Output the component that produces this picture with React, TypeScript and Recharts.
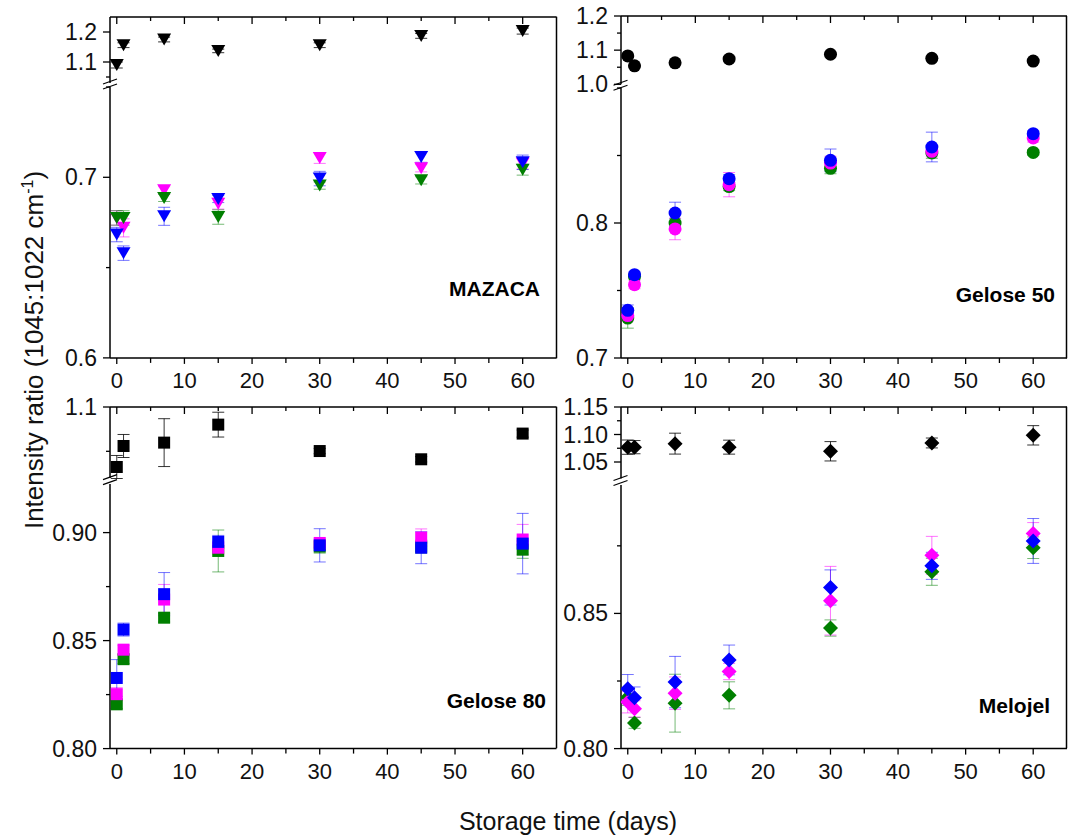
import React from 'react'
import { ErrorBar, Scatter, ScatterChart, XAxis, YAxis } from 'recharts'

const days = [0, 1, 7, 15, 30, 45, 60]
const xTicks = [0, 5, 10, 15, 20, 25, 30, 35, 40, 45, 50, 55, 60]

// MAZACA
const mazacaBlack = [1.09, 1.156, 1.175, 1.137, 1.156, 1.187, 1.203]
const mazacaBlackErr = [0.01, 0.008, 0.008, 0.006, 0.008, 0.008, 0.01]
const mazacaGreen = [0.6775, 0.6775, 0.6886, 0.678, 0.6954, 0.6983, 0.7042]
const mazacaGreenErr = [0.004, 0.004, 0.002, 0.004, 0.002, 0.002, 0.003]
const mazacaMagenta = [0.6775, 0.672, 0.6928, 0.6854, 0.7107, 0.705, 0.7076]
const mazacaMagentaErr = [0.004, 0.005, 0.002, 0.003, 0.003, 0.002, 0.003]
const mazacaBlue = [0.6683, 0.658, 0.6784, 0.688, 0.6993, 0.7113, 0.7083]
const mazacaBlueErr = [0.004, 0.004, 0.005, 0.002, 0.004, 0.003, 0.004]

// Gelose 50
const g50Black = [1.083, 1.054, 1.063, 1.074, 1.088, 1.076, 1.068]
const g50BlackErr = [0.004, 0.003, 0.003, 0.008, 0.003, 0.003, 0.003]
const g50Green = [0.7296, 0.7605, 0.8, 0.827, 0.8405, 0.8519, 0.8523]
const g50GreenErr = [0.0075, 0.002, 0.003, 0.003, 0.004, 0.004, 0.002]
const g50Magenta = [0.7314, 0.7543, 0.7956, 0.8284, 0.8444, 0.8531, 0.863]
const g50MagentaErr = [0.004, 0.003, 0.008, 0.009, 0.005, 0.004, 0.003]
const g50Blue = [0.7353, 0.7617, 0.8074, 0.8328, 0.8464, 0.8563, 0.8662]
const g50BlueErr = [0.004, 0.002, 0.008, 0.003, 0.0084, 0.011, 0.002]

// Gelose 80
const g80Black = [1.0323, 1.056, 1.0598, 1.0801, 1.0503, 1.041, 1.07]
const g80BlackErr = [0.013, 0.013, 0.027, 0.014, 0.003, 0.003, 0.004]
const g80Green = [0.8205, 0.8414, 0.8606, 0.8915, 0.8935, 0.8935, 0.8921]
const g80GreenErr = [0.002, 0.002, 0.002, 0.0097, 0.003, 0.003, 0.004]
const g80Magenta = [0.8252, 0.8458, 0.869, 0.893, 0.8952, 0.8977, 0.8968]
const g80MagentaErr = [0.003, 0.002, 0.007, 0.003, 0.002, 0.004, 0.007]
const g80Blue = [0.8327, 0.8551, 0.8715, 0.8957, 0.8941, 0.893, 0.8949]
const g80BlueErr = [0.0085, 0.003, 0.01, 0.003, 0.0077, 0.0074, 0.014]

// Melojel
const melBlack = [1.077, 1.077, 1.0834, 1.077, 1.0695, 1.0846, 1.0985]
const melBlackErr = [0.013, 0.012, 0.019, 0.0127, 0.0176, 0.009, 0.0176]
const melGreen = [0.819, 0.8095, 0.8168, 0.8197, 0.8446, 0.8654, 0.8743]
const melGreenErr = [0.003, 0.002, 0.0107, 0.005, 0.003, 0.005, 0.004]
const melMagenta = [0.8172, 0.8147, 0.8205, 0.8285, 0.8547, 0.8715, 0.8796]
const melMagentaErr = [0.004, 0.003, 0.006, 0.003, 0.0127, 0.007, 0.004]
const melBlue = [0.8221, 0.8188, 0.8246, 0.8328, 0.8596, 0.8676, 0.8768]
const melBlueErr = [0.0053, 0.004, 0.0095, 0.0055, 0.0065, 0.005, 0.0083]

const FONT = '"Liberation Sans", Arial, Helvetica, sans-serif'
const BLACK = '#000000'
const GREEN = '#007f00'
const MAGENTA = '#ff00ff'
const BLUE = '#0000ff'

const pts = (vals: number[], errs: number[]) =>
  days.map((d, i) => ({ x: d, y: vals[i], err: errs[i] }))

type Marker = 'triangle' | 'circle' | 'square' | 'diamond'

function MarkerShape({ cx, cy, fill, kind }: any) {
  if (cx == null || cy == null) return null
  if (kind === 'triangle')
    return <polygon points={`${cx - 7},${cy - 6} ${cx + 7},${cy - 6} ${cx},${cy + 6}`} fill={fill} />
  if (kind === 'square') return <rect x={cx - 6} y={cy - 6} width={12} height={12} fill={fill} />
  if (kind === 'diamond')
    return <polygon points={`${cx},${cy - 7.5} ${cx + 7.5},${cy} ${cx},${cy + 7.5} ${cx - 7.5},${cy}`} fill={fill} />
  return <circle cx={cx} cy={cy} r={6.5} fill={fill} />
}

interface SeriesSpec {
  color: string
  data: { x: number; y: number; err: number }[]
}

interface SegmentProps {
  x0: number
  x1: number
  y0: number
  y1: number
  domain: [number, number]
  major: number[]
  minor: number[]
  dec: number
  pos: 'top' | 'bottom'
  marker: Marker
  series: SeriesSpec[]
}

const YW = 90
const MR = 10
const MT = 20 // room above each plot for the top tick label
const MB = 20 // room below a top segment for its lowest label
const XH = 40

function Segment({ x0, x1, y0, y1, domain, major, minor, dec, pos, marker, series }: SegmentProps) {
  const plotW = x1 - x0
  const plotH = y1 - y0
  const width = YW + plotW + MR
  const height = pos === 'top' ? MT + plotH + MB : MT + plotH + XH
  const axisY = pos === 'top' ? MT : MT + plotH

  const xTick = (p: any) => {
    const v = p.payload.value
    const isMajor = v % 10 === 0
    const len = pos === 'top' ? (isMajor ? 7 : 4) : isMajor ? 6 : 5
    return (
      <g>
        <line x1={p.x} x2={p.x} y1={axisY} y2={axisY + len} stroke={BLACK} strokeWidth={1.3} />
        {pos === 'bottom' && isMajor && (
          <text x={p.x} y={axisY + 30} textAnchor="middle" fontSize={22} fill="#111" fontFamily={FONT}>
            {v}
          </text>
        )}
      </g>
    )
  }

  const yTick = (p: any) => {
    const v = p.payload.value
    const isMajor = major.some((m) => Math.abs(m - v) < 1e-9)
    return (
      <g>
        <line x1={YW - (isMajor ? 7 : 4)} x2={YW} y1={p.y} y2={p.y} stroke={BLACK} strokeWidth={1.3} />
        {isMajor && (
          <text x={YW - 13} y={p.y + 8} textAnchor="end" fontSize={23} fill="#111" fontFamily={FONT}>
            {v.toFixed(dec)}
          </text>
        )}
      </g>
    )
  }

  return (
    <div style={{ position: 'absolute', left: x0 - YW, top: y0 - MT, width, height }}>
      <ScatterChart
        width={width}
        height={height}
        margin={{ top: pos === 'top' ? 0 : MT, right: MR, left: 0, bottom: pos === 'top' ? MB : 0 }}
      >
        <XAxis
          type="number"
          dataKey="x"
          domain={[-1, 65]}
          allowDataOverflow
          ticks={xTicks}
          interval={0}
          orientation={pos === 'top' ? 'top' : 'bottom'}
          height={pos === 'top' ? MT : XH}
          axisLine={{ stroke: BLACK, strokeWidth: 1.5 }}
          tickLine={false}
          tick={xTick}
        />
        <YAxis
          type="number"
          dataKey="y"
          domain={domain}
          allowDataOverflow
          ticks={[...major, ...minor].sort((a, b) => a - b)}
          interval={0}
          width={YW}
          axisLine={{ stroke: BLACK, strokeWidth: 1.5 }}
          tickLine={false}
          tick={yTick}
        />
        {series.map((s, i) => (
          <Scatter
            key={i}
            data={s.data}
            fill={s.color}
            isAnimationActive={false}
            shape={(p: any) => <MarkerShape {...p} kind={marker} fill={s.color} />}
          >
            <ErrorBar
              dataKey="err"
              direction="y"
              width={6}
              stroke={s.color}
              strokeOpacity={s.color === BLACK ? 0.8 : 0.55}
              strokeWidth={1}
            />
          </Scatter>
        ))}
      </ScatterChart>
    </div>
  )
}

interface PanelSpec {
  label: string
  labelX: number
  labelY: number
  marker: Marker
  x0: number
  x1: number
  top: { y0: number; y1: number; domain: [number, number]; major: number[]; minor: number[]; dec: number }
  bottom: { y0: number; y1: number; domain: [number, number]; major: number[]; minor: number[]; dec: number }
  black: SeriesSpec
  colored: SeriesSpec[]
}

const panels: PanelSpec[] = [
  {
    label: 'MAZACA',
    labelX: 540,
    labelY: 296,
    marker: 'triangle',
    x0: 110,
    x1: 556.5,
    top: { y0: 16.7, y1: 82.7, domain: [1.03, 1.25], major: [1.1, 1.2], minor: [1.05], dec: 1 },
    bottom: { y0: 87.4, y1: 358.3, domain: [0.6, 0.75], major: [0.6, 0.7], minor: [0.65, 0.75], dec: 1 },
    black: { color: BLACK, data: pts(mazacaBlack, mazacaBlackErr) },
    colored: [
      { color: MAGENTA, data: pts(mazacaMagenta, mazacaMagentaErr) },
      { color: GREEN, data: pts(mazacaGreen, mazacaGreenErr) },
      { color: BLUE, data: pts(mazacaBlue, mazacaBlueErr) },
    ],
  },
  {
    label: 'Gelose 50',
    labelX: 1055,
    labelY: 302,
    marker: 'circle',
    x0: 620.5,
    x1: 1066.5,
    top: { y0: 16, y1: 84.3, domain: [1.0, 1.2], major: [1.0, 1.1, 1.2], minor: [1.05, 1.15], dec: 1 },
    bottom: { y0: 88.3, y1: 358.3, domain: [0.7, 0.9], major: [0.7, 0.8], minor: [0.75, 0.85, 0.9], dec: 1 },
    black: { color: BLACK, data: pts(g50Black, g50BlackErr) },
    colored: [
      { color: GREEN, data: pts(g50Green, g50GreenErr) },
      { color: MAGENTA, data: pts(g50Magenta, g50MagentaErr) },
      { color: BLUE, data: pts(g50Blue, g50BlueErr) },
    ],
  },
  {
    label: 'Gelose 80',
    labelX: 546,
    labelY: 708,
    marker: 'square',
    x0: 110,
    x1: 556.5,
    top: { y0: 406.7, y1: 477.6, domain: [1.02, 1.1], major: [1.1], minor: [1.05], dec: 1 },
    bottom: {
      y0: 483.7,
      y1: 748.3,
      domain: [0.8, 0.9225],
      major: [0.8, 0.85, 0.9],
      minor: [0.825, 0.875],
      dec: 2,
    },
    black: { color: BLACK, data: pts(g80Black, g80BlackErr) },
    colored: [
      { color: GREEN, data: pts(g80Green, g80GreenErr) },
      { color: MAGENTA, data: pts(g80Magenta, g80MagentaErr) },
      { color: BLUE, data: pts(g80Blue, g80BlueErr) },
    ],
  },
  {
    label: 'Melojel',
    labelX: 1050,
    labelY: 713,
    marker: 'diamond',
    x0: 620.5,
    x1: 1066.5,
    top: {
      y0: 406.7,
      y1: 478.2,
      domain: [1.02, 1.15],
      major: [1.05, 1.1, 1.15],
      minor: [1.075, 1.125],
      dec: 2,
    },
    bottom: { y0: 484.7, y1: 748.3, domain: [0.8, 0.8975], major: [0.8, 0.85], minor: [0.825, 0.875], dec: 2 },
    black: { color: BLACK, data: pts(melBlack, melBlackErr) },
    colored: [
      { color: GREEN, data: pts(melGreen, melGreenErr) },
      { color: MAGENTA, data: pts(melMagenta, melMagentaErr) },
      { color: BLUE, data: pts(melBlue, melBlueErr) },
    ],
  },
]

export default function App() {
  return (
    <div style={{ position: 'absolute', left: 0, top: 0, width: 1074, height: 835, background: '#fff', fontFamily: FONT }}>
      {panels.map((p, i) => (
        <React.Fragment key={i}>
          <Segment x0={p.x0} x1={p.x1} {...p.top} pos="top" marker={p.marker} series={[p.black]} />
          <Segment x0={p.x0} x1={p.x1} {...p.bottom} pos="bottom" marker={p.marker} series={p.colored} />
        </React.Fragment>
      ))}
      <svg
        width={1074}
        height={835}
        style={{ position: 'absolute', left: 0, top: 0, pointerEvents: 'none' }}
      >
        {panels.map((p, i) => {
          const mid = (p.top.y1 + p.bottom.y0) / 2
          return (
            <g key={i}>
              <line x1={p.x1} x2={p.x1} y1={p.top.y0} y2={p.bottom.y1} stroke={BLACK} strokeWidth={1.5} />
              <line x1={p.x0 - 7} y1={mid - 1} x2={p.x0 + 7} y2={mid - 6} stroke={BLACK} strokeWidth={1.2} />
              <line x1={p.x0 - 7} y1={mid + 4} x2={p.x0 + 7} y2={mid - 1} stroke={BLACK} strokeWidth={1.2} />
              <text
                x={p.labelX}
                y={p.labelY}
                textAnchor="end"
                fontSize={21}
                fontWeight="bold"
                fontFamily={FONT}
                fill="#000"
              >
                {p.label}
              </text>
            </g>
          )
        })}
        <text
          transform="translate(43,350) rotate(-90)"
          textAnchor="middle"
          fontSize={26}
          fontFamily={FONT}
          fill="#111"
        >
          Intensity ratio (1045:1022 cm
          <tspan dy={-10} fontSize={16}>
            -1
          </tspan>
          <tspan dy={10}>)</tspan>
        </text>
        <text x={568} y={830} textAnchor="middle" fontSize={25} fontFamily={FONT} fill="#111">
          Storage time (days)
        </text>
      </svg>
    </div>
  )
}
